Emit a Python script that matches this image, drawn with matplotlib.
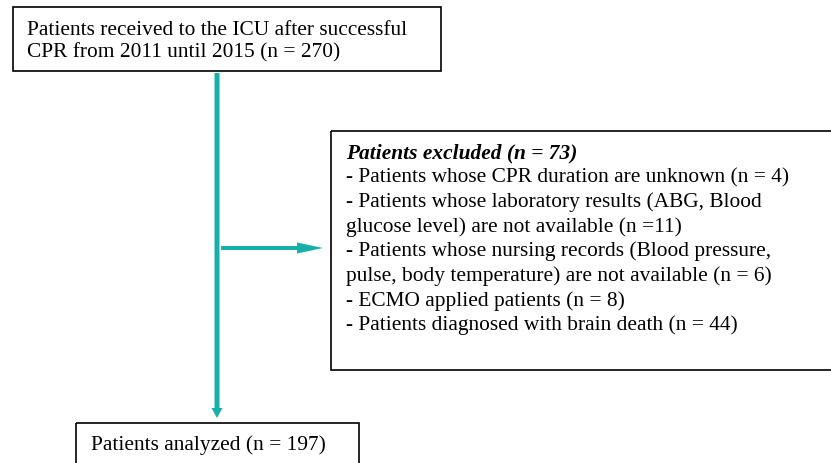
import matplotlib.pyplot as plt
from matplotlib.patches import Rectangle, FancyArrow

# flowchart texts
top_lines = ["Patients received to the ICU after successful",
             "CPR from 2011 until 2015 (n = 270)"]
excluded_title = "Patients excluded (n = 73)"
excluded_lines = [
    "- Patients whose CPR duration are unknown (n = 4)",
    "- Patients whose laboratory results (ABG, Blood",
    "glucose level) are not available (n =11)",
    "- Patients whose nursing records (Blood pressure,",
    "pulse, body temperature) are not available (n = 6)",
    "- ECMO applied patients (n = 8)",
    "- Patients diagnosed with brain death (n = 44)",
]
bottom_text = "Patients analyzed (n = 197)"

teal = '#17AFA9'
font = 'Liberation Serif'
fs = 15.4

fig = plt.figure(figsize=(8.31, 4.64), dpi=100)
ax = fig.add_axes([0, 0, 1, 1])
ax.set_xlim(0, 831)
ax.set_ylim(464, 0)
ax.axis('off')

# boxes
ax.add_patch(Rectangle((13, 8), 428, 64, fill=False, lw=1.2, ec='black'))
ax.add_patch(Rectangle((331, 132), 505, 239, fill=False, lw=1.2, ec='black'))
ax.add_patch(Rectangle((76, 424), 283, 60, fill=False, lw=1.2, ec='black'))

# top box text
for i, line in enumerate(top_lines):
    ax.text(27, 35 + i * 22, line, fontsize=fs, family=font, va='baseline')

# excluded box text
ax.text(346, 158, excluded_title, fontsize=fs, family=font, va='baseline',
        weight='bold', style='italic')
for i, line in enumerate(excluded_lines):
    ax.text(346, 182.6 + i * 24.6, line, fontsize=fs, family=font, va='baseline')

ax.text(91, 450, bottom_text, fontsize=fs, family=font, va='baseline')

# arrows
ax.add_patch(FancyArrow(217, 74, 0, 345, width=5, head_width=11, head_length=10,
                        length_includes_head=True, color=teal, lw=0))
ax.add_patch(FancyArrow(221, 249, 102, 0, width=4, head_width=11, head_length=26,
                        length_includes_head=True, color=teal, lw=0))

plt.savefig('out.png', dpi=100)
